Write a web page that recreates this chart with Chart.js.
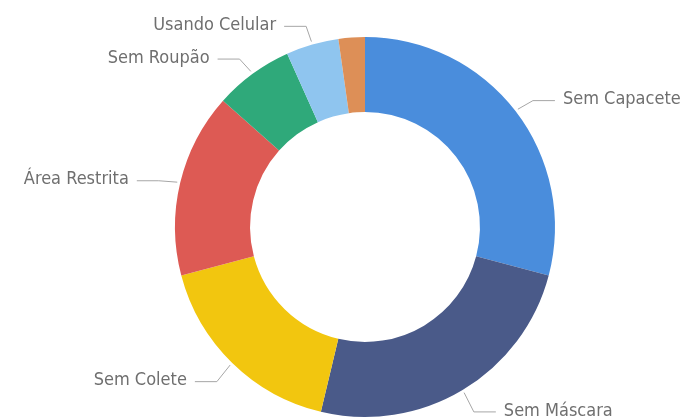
<!DOCTYPE html>
<html>
<head>
<meta charset="utf-8">
<script src="https://cdn.jsdelivr.net/npm/chart.js@4"></script>
<style>
  html, body { margin: 0; padding: 0; background: #fff; }
  #wrap { width: 689px; height: 419px; position: relative; }
</style>
</head>
<body>
<div id="wrap"><canvas id="chart"></canvas></div>
<script>
const categories = ["Sem Capacete", "Sem Máscara", "Sem Colete", "Área Restrita", "Sem Roupão", "Usando Celular", "Outros"];
const counts = [39, 33, 23, 21, 9, 6, 3];
const sliceColors = ["#4a8ddc", "#4a5a89", "#f2c60f", "#dd5a54", "#2fa97a", "#8fc5ef", "#dd8f57"];
const showLabel = [true, true, true, true, true, true, false];

const leaderLabels = {
  id: "leaderLabels",
  afterDatasetsDraw(chart) {
    const ctx = chart.ctx;
    const meta = chart.getDatasetMeta(0);
    ctx.save();
    ctx.font = "18px 'DejaVu Sans Condensed', 'Open Sans', sans-serif";
    ctx.textBaseline = "middle";
    meta.data.forEach((arc, i) => {
      if (!showLabel[i]) return;
      const mid = (arc.startAngle + arc.endAngle) / 2;
      const r = arc.outerRadius;
      const cx = arc.x, cy = arc.y;
      const x0 = cx + Math.cos(mid) * (r + 3);
      const y0 = cy + Math.sin(mid) * (r + 3);
      const x1 = cx + Math.cos(mid) * (r + 22);
      const y1 = cy + Math.sin(mid) * (r + 22) + 3;
      const right = Math.cos(mid) >= 0;
      const x2 = right ? x1 + 22 : x1 - 22;
      ctx.strokeStyle = "#a6a6a6";
      ctx.lineWidth = 1;
      ctx.beginPath();
      ctx.moveTo(x0, y0);
      ctx.lineTo(x1, y1);
      ctx.lineTo(x2, y1);
      ctx.stroke();
      ctx.fillStyle = "#6f6f6f";
      ctx.textAlign = right ? "left" : "right";
      ctx.fillText(categories[i], right ? x2 + 8 : x2 - 8, y1 - 1);
    });
    ctx.restore();
  }
};

new Chart(document.getElementById("chart"), {
  type: "doughnut",
  data: {
    labels: categories,
    datasets: [{
      data: counts,
      backgroundColor: sliceColors,
      borderWidth: 0
    }]
  },
  options: {
    responsive: true,
    maintainAspectRatio: false,
    animation: false,
    cutout: "60.5%",
    layout: { padding: { left: 175, right: 134, top: 37, bottom: 2 } },
    plugins: {
      legend: { display: false },
      tooltip: { enabled: false }
    }
  },
  plugins: [leaderLabels]
});
</script>
</body>
</html>
